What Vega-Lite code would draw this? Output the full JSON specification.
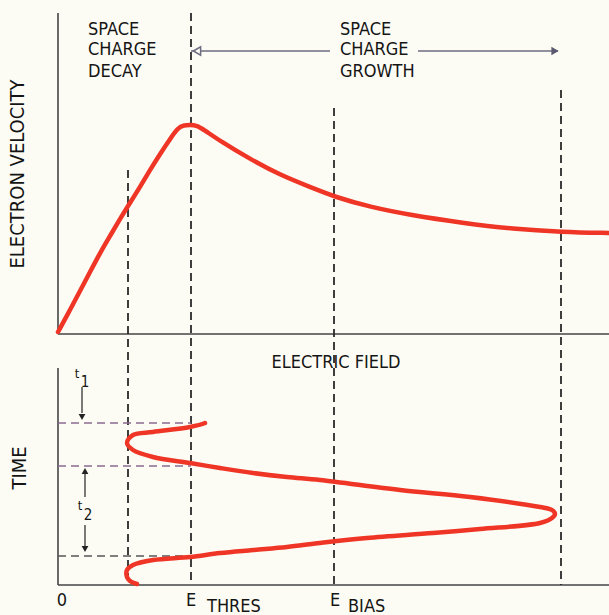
{
  "$schema": "https://vega.github.io/schema/vega-lite/v6.json",
  "width": 609,
  "height": 615,
  "autosize": {"type": "none"},
  "padding": 0,
  "background": "#fcfcf4",
  "config": {"view": {"stroke": null}},
  "layer": [
    {
      "data": {"values": [
        {"E1": 0, "E2": 0, "y1": 283, "y2": 602},
        {"E1": 0, "E2": 551, "y1": 281, "y2": 281},
        {"E1": 0, "E2": 0, "y1": 30, "y2": 247},
        {"E1": 0, "E2": 551, "y1": 30, "y2": 30}
      ]},
      "mark": {"type": "rule", "color": "#444444", "strokeWidth": 1.6},
      "encoding": {
        "x": {"field": "E1", "type": "quantitative", "scale": {"domain": [-58, 551], "nice": false, "zero": false}, "axis": null},
        "x2": {"field": "E2"},
        "y": {"field": "y1", "type": "quantitative", "scale": {"domain": [0, 615], "nice": false, "zero": false}, "axis": null},
        "y2": {"field": "y2"}
      }
    },
    {
      "data": {"values": [
        {"E": 70, "y1": 445, "y2": 30},
        {"E": 133, "y1": 602, "y2": 30},
        {"E": 276, "y1": 507, "y2": 30},
        {"E": 503, "y1": 525, "y2": 30}
      ]},
      "mark": {"type": "rule", "color": "#2a2a2a", "strokeWidth": 1.8, "strokeDash": [8, 5]},
      "encoding": {
        "x": {"field": "E", "type": "quantitative", "scale": {"domain": [-58, 551], "nice": false, "zero": false}, "axis": null},
        "y": {"field": "y1", "type": "quantitative", "scale": {"domain": [0, 615], "nice": false, "zero": false}, "axis": null},
        "y2": {"field": "y2"}
      }
    },
    {
      "data": {"values": [
        {"E1": 0, "E2": 133, "y": 192},
        {"E1": 0, "E2": 133, "y": 149}
      ]},
      "mark": {"type": "rule", "color": "#8a6a90", "strokeWidth": 1.5, "strokeDash": [8, 5]},
      "encoding": {
        "x": {"field": "E1", "type": "quantitative", "scale": {"domain": [-58, 551], "nice": false, "zero": false}, "axis": null},
        "x2": {"field": "E2"},
        "y": {"field": "y", "type": "quantitative", "scale": {"domain": [0, 615], "nice": false, "zero": false}, "axis": null}
      }
    },
    {
      "data": {"values": [
        {"E1": 0, "E2": 125, "y": 59}
      ]},
      "mark": {"type": "rule", "color": "#555555", "strokeWidth": 1.5, "strokeDash": [8, 5]},
      "encoding": {
        "x": {"field": "E1", "type": "quantitative", "scale": {"domain": [-58, 551], "nice": false, "zero": false}, "axis": null},
        "x2": {"field": "E2"},
        "y": {"field": "y", "type": "quantitative", "scale": {"domain": [0, 615], "nice": false, "zero": false}, "axis": null}
      }
    },
    {
      "data": {"values": [
        {"E1": 133, "E2": 272, "y": 564},
        {"E1": 360, "E2": 500, "y": 564}
      ]},
      "mark": {"type": "rule", "color": "#6e6c82", "strokeWidth": 1.5},
      "encoding": {
        "x": {"field": "E1", "type": "quantitative", "scale": {"domain": [-58, 551], "nice": false, "zero": false}, "axis": null},
        "x2": {"field": "E2"},
        "y": {"field": "y", "type": "quantitative", "scale": {"domain": [0, 615], "nice": false, "zero": false}, "axis": null}
      }
    },
    {
      "data": {"values": [{"E": 139, "y": 564}]},
      "mark": {"type": "point", "shape": "triangle-left", "filled": false, "size": 70, "stroke": "#6e6c82", "strokeWidth": 1.5, "fill": "#fcfcf4", "fillOpacity": 1},
      "encoding": {
        "x": {"field": "E", "type": "quantitative", "scale": {"domain": [-58, 551], "nice": false, "zero": false}, "axis": null},
        "y": {"field": "y", "type": "quantitative", "scale": {"domain": [0, 615], "nice": false, "zero": false}, "axis": null}
      }
    },
    {
      "data": {"values": [{"E": 497, "y": 564}]},
      "mark": {"type": "point", "shape": "triangle-right", "filled": true, "size": 70, "color": "#5a586e", "opacity": 1},
      "encoding": {
        "x": {"field": "E", "type": "quantitative", "scale": {"domain": [-58, 551], "nice": false, "zero": false}, "axis": null},
        "y": {"field": "y", "type": "quantitative", "scale": {"domain": [0, 615], "nice": false, "zero": false}, "axis": null}
      }
    },
    {
      "data": {"values": [
        {"E": 24, "y1": 228, "y2": 202},
        {"E": 27, "y1": 118, "y2": 143},
        {"E": 27, "y1": 90, "y2": 68}
      ]},
      "mark": {"type": "rule", "color": "#333333", "strokeWidth": 1.3},
      "encoding": {
        "x": {"field": "E", "type": "quantitative", "scale": {"domain": [-58, 551], "nice": false, "zero": false}, "axis": null},
        "y": {"field": "y1", "type": "quantitative", "scale": {"domain": [0, 615], "nice": false, "zero": false}, "axis": null},
        "y2": {"field": "y2"}
      }
    },
    {
      "data": {"values": [{"E": 24, "y": 198}, {"E": 27, "y": 66}]},
      "mark": {"type": "point", "shape": "triangle-down", "filled": true, "size": 45, "color": "#222222", "opacity": 1},
      "encoding": {
        "x": {"field": "E", "type": "quantitative", "scale": {"domain": [-58, 551], "nice": false, "zero": false}, "axis": null},
        "y": {"field": "y", "type": "quantitative", "scale": {"domain": [0, 615], "nice": false, "zero": false}, "axis": null}
      }
    },
    {
      "data": {"values": [{"E": 27, "y": 144}]},
      "mark": {"type": "point", "shape": "triangle-up", "filled": true, "size": 45, "color": "#222222", "opacity": 1},
      "encoding": {
        "x": {"field": "E", "type": "quantitative", "scale": {"domain": [-58, 551], "nice": false, "zero": false}, "axis": null},
        "y": {"field": "y", "type": "quantitative", "scale": {"domain": [0, 615], "nice": false, "zero": false}, "axis": null}
      }
    },
    {
      "data": {"values": [
        {"E": 0, "v": 283}, {"E": 12, "v": 305}, {"E": 22, "v": 324}, {"E": 32, "v": 343},
        {"E": 42, "v": 362}, {"E": 52, "v": 379}, {"E": 62, "v": 396}, {"E": 70, "v": 409},
        {"E": 82, "v": 428}, {"E": 92, "v": 445}, {"E": 102, "v": 461}, {"E": 112, "v": 476},
        {"E": 120, "v": 487}, {"E": 125, "v": 490}, {"E": 137, "v": 490}, {"E": 142, "v": 488},
        {"E": 162, "v": 474}, {"E": 192, "v": 456}, {"E": 222, "v": 440}, {"E": 252, "v": 428},
        {"E": 277, "v": 418}, {"E": 312, "v": 408}, {"E": 352, "v": 400}, {"E": 405, "v": 392},
        {"E": 455, "v": 386}, {"E": 504, "v": 383}, {"E": 551, "v": 382}
      ]},
      "mark": {"type": "line", "color": "#ef3526", "strokeWidth": 4.5, "interpolate": "basis", "strokeCap": "round"},
      "encoding": {
        "x": {"field": "E", "type": "quantitative", "scale": {"domain": [-58, 551], "nice": false, "zero": false}, "axis": null},
        "y": {"field": "v", "type": "quantitative", "scale": {"domain": [0, 615], "nice": false, "zero": false}, "axis": null}
      }
    },
    {
      "data": {"values": [
        {"i": 1, "E": 79, "t": 31}, {"i": 2, "E": 72, "t": 34}, {"i": 3, "E": 69, "t": 38},
        {"i": 4, "E": 69, "t": 45}, {"i": 5, "E": 75, "t": 50}, {"i": 6, "E": 95, "t": 55},
        {"i": 7, "E": 132, "t": 58}, {"i": 8, "E": 162, "t": 62}, {"i": 9, "E": 195, "t": 65},
        {"i": 10, "E": 229, "t": 68}, {"i": 11, "E": 262, "t": 72}, {"i": 12, "E": 309, "t": 77},
        {"i": 13, "E": 375, "t": 82}, {"i": 14, "E": 422, "t": 86}, {"i": 15, "E": 482, "t": 92},
        {"i": 16, "E": 494, "t": 97}, {"i": 17, "E": 497, "t": 101}, {"i": 18, "E": 494, "t": 105},
        {"i": 19, "E": 482, "t": 108}, {"i": 20, "E": 412, "t": 118}, {"i": 21, "E": 342, "t": 125},
        {"i": 22, "E": 262, "t": 135}, {"i": 23, "E": 229, "t": 138}, {"i": 24, "E": 195, "t": 142},
        {"i": 25, "E": 162, "t": 147}, {"i": 26, "E": 132, "t": 152}, {"i": 27, "E": 95, "t": 158},
        {"i": 28, "E": 75, "t": 165}, {"i": 29, "E": 69, "t": 172}, {"i": 30, "E": 75, "t": 180},
        {"i": 31, "E": 95, "t": 183}, {"i": 32, "E": 132, "t": 188}, {"i": 33, "E": 147, "t": 192}
      ]},
      "mark": {"type": "line", "color": "#ef3526", "strokeWidth": 4.5, "interpolate": "catmull-rom", "strokeCap": "round"},
      "encoding": {
        "x": {"field": "E", "type": "quantitative", "scale": {"domain": [-58, 551], "nice": false, "zero": false}, "axis": null},
        "y": {"field": "t", "type": "quantitative", "scale": {"domain": [0, 615], "nice": false, "zero": false}, "axis": null},
        "order": {"field": "i", "type": "quantitative"}
      }
    },
    {
      "data": {"values": [
        {"E": 30, "y": 585, "label": "SPACE"},
        {"E": 30, "y": 565, "label": "CHARGE"},
        {"E": 30, "y": 543, "label": "DECAY"},
        {"E": 282, "y": 585, "label": "SPACE"},
        {"E": 282, "y": 565, "label": "CHARGE"},
        {"E": 282, "y": 543, "label": "GROWTH"},
        {"E": 149, "y": 8, "label": "THRES"},
        {"E": 290, "y": 8, "label": "BIAS"}
      ]},
      "mark": {"type": "text", "align": "left", "baseline": "middle", "font": "DejaVu Sans Condensed", "fontSize": 18, "color": "#151515"},
      "encoding": {
        "x": {"field": "E", "type": "quantitative", "scale": {"domain": [-58, 551], "nice": false, "zero": false}, "axis": null},
        "y": {"field": "y", "type": "quantitative", "scale": {"domain": [0, 615], "nice": false, "zero": false}, "axis": null},
        "text": {"field": "label"}
      }
    },
    {
      "data": {"values": [
        {"E": 278, "y": 252, "label": "ELECTRIC FIELD"},
        {"E": 4, "y": 14, "label": "0"},
        {"E": 133, "y": 14, "label": "E"},
        {"E": 277, "y": 14, "label": "E"}
      ]},
      "mark": {"type": "text", "align": "center", "baseline": "middle", "font": "DejaVu Sans Condensed", "fontSize": 18, "color": "#151515"},
      "encoding": {
        "x": {"field": "E", "type": "quantitative", "scale": {"domain": [-58, 551], "nice": false, "zero": false}, "axis": null},
        "y": {"field": "y", "type": "quantitative", "scale": {"domain": [0, 615], "nice": false, "zero": false}, "axis": null},
        "text": {"field": "label"}
      }
    },
    {
      "data": {"values": [
        {"E": -40, "y": 441, "label": "ELECTRON VELOCITY"},
        {"E": -38, "y": 147, "label": "TIME"}
      ]},
      "mark": {"type": "text", "align": "center", "baseline": "middle", "angle": 270, "font": "DejaVu Sans Condensed", "fontSize": 20, "color": "#151515"},
      "encoding": {
        "x": {"field": "E", "type": "quantitative", "scale": {"domain": [-58, 551], "nice": false, "zero": false}, "axis": null},
        "y": {"field": "y", "type": "quantitative", "scale": {"domain": [0, 615], "nice": false, "zero": false}, "axis": null},
        "text": {"field": "label"}
      }
    },
    {
      "data": {"values": [
        {"E": 19, "y": 241, "label": "t"},
        {"E": 22, "y": 109, "label": "t"}
      ]},
      "mark": {"type": "text", "align": "center", "baseline": "middle", "font": "DejaVu Sans Condensed", "fontSize": 13, "color": "#151515"},
      "encoding": {
        "x": {"field": "E", "type": "quantitative", "scale": {"domain": [-58, 551], "nice": false, "zero": false}, "axis": null},
        "y": {"field": "y", "type": "quantitative", "scale": {"domain": [0, 615], "nice": false, "zero": false}, "axis": null},
        "text": {"field": "label"}
      }
    },
    {
      "data": {"values": [
        {"E": 27, "y": 233, "label": "1"},
        {"E": 30, "y": 100, "label": "2"}
      ]},
      "mark": {"type": "text", "align": "center", "baseline": "middle", "font": "DejaVu Sans Condensed", "fontSize": 15, "color": "#151515"},
      "encoding": {
        "x": {"field": "E", "type": "quantitative", "scale": {"domain": [-58, 551], "nice": false, "zero": false}, "axis": null},
        "y": {"field": "y", "type": "quantitative", "scale": {"domain": [0, 615], "nice": false, "zero": false}, "axis": null},
        "text": {"field": "label"}
      }
    }
  ]
}
